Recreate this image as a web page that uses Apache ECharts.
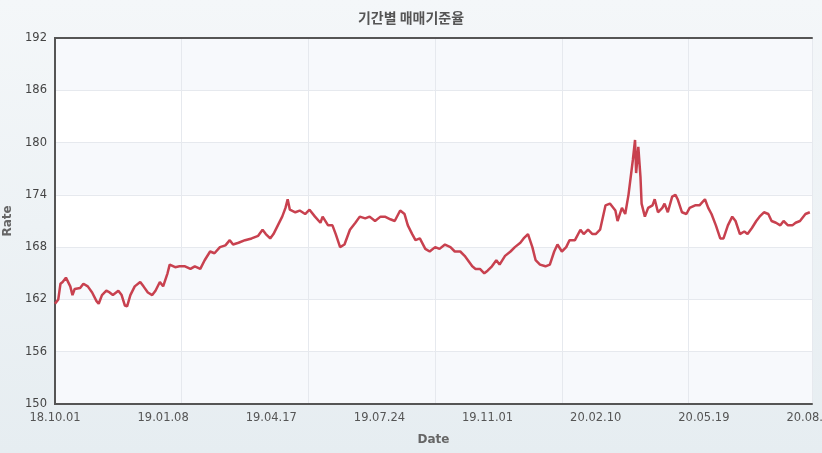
<!DOCTYPE html><html><head><meta charset="utf-8">
<script src="https://cdn.jsdelivr.net/npm/echarts@6/dist/echarts.min.js"></script>
<style>html,body{margin:0;padding:0;background:linear-gradient(#f4f7f9,#e6edf1);}#c{width:822px;height:453px;}</style></head><body><div id="c"></div>
<script>
const tickLabels=['18.10.01','19.01.08','19.04.17','19.07.24','19.11.01','20.02.10','20.05.19','20.08.26'];
const dayOffsets=[0,3,5,7,10,14,16,18,23,26,30,34,38,40,43,47,50,53,58,61,64,66,69,73,78,81,85,89,92,96,
99,103,105,110,114,119,124,128,133,137,142,146,151,156,160,163,168,174,180,186,190,193,197,200,204,208,211,213,215,220,
224,229,233,238,243,245,250,254,257,261,265,270,275,279,284,288,293,298,302,307,311,316,320,323,327,330,334,339,343,348,
352,357,362,366,371,375,378,382,385,389,393,396,400,404,407,412,417,421,426,429,433,437,440,444,449,453,457,460,464,468,
471,476,481,484,488,492,495,499,504,508,513,515,519,522,525,527,529,531,532,534,536,537,540,543,547,549,552,556,558,561,
565,568,570,574,578,581,586,590,595,598,601,605,609,612,616,620,623,627,631,634,638,642,645,649,653,656,660,664,667,671,
675,678,682,687,691];
const rates=[161.5,162,163.8,164,164.5,163.5,162.5,163.2,163.3,163.8,
163.5,162.8,161.8,161.5,162.5,163,162.8,162.5,163,162.5,
161.3,161.2,162.5,163.5,164,163.5,162.8,162.5,163,164,
163.5,165,166,165.7,165.8,165.8,165.5,165.8,165.5,166.5,
167.5,167.3,168,168.2,168.8,168.3,168.5,168.8,169,169.3,
170,169.5,169,169.5,170.5,171.5,172.5,173.5,172.3,172,
172.2,171.8,172.3,171.5,170.8,171.5,170.5,170.5,169.5,168,
168.3,170,170.8,171.5,171.3,171.5,171,171.5,171.5,171.2,
171,172.2,171.8,170.5,169.5,168.8,169,167.8,167.5,168,
167.8,168.3,168,167.5,167.5,167,166.5,165.8,165.5,165.5,
165,165.3,165.8,166.5,166,167,167.5,168,168.5,169,
169.5,168,166.5,166,165.8,166,167.5,168.3,167.5,168,
168.8,168.8,170,169.5,170,169.5,169.5,170,172.8,173,
172.2,171,172.5,171.8,174,176,178,180.3,176.5,179.5,
176,173,171.5,172.5,172.8,173.5,172,172.5,173,172,
173.8,174,173.5,172,171.8,172.5,172.8,172.8,173.5,172.5,
171.8,170.5,169,169,170.5,171.5,171,169.5,169.8,169.5,
170.2,171,171.5,172,171.8,171,170.8,170.5,171,170.5,
170.5,170.8,171,171.8,172];
const chart=echarts.init(document.getElementById('c'));
const font='DejaVu Sans';
const border={show:true,lineStyle:{color:'#555',width:2}};
chart.setOption({
 backgroundColor:'transparent',animation:false,
 title:{text:'기간별 매매기준율',left:'center',top:6,textStyle:{fontFamily:'Noto Sans CJK KR',fontSize:14,fontWeight:'bold',color:'#555'}},
 grid:{left:55,right:10,top:38,bottom:49,outerBoundsMode:'none',containLabel:false,show:true,borderWidth:0,backgroundColor:'#fff'},
 xAxis:[{type:'value',min:0,max:693,interval:99,axisLine:border,axisTick:{show:false},splitLine:{show:false},
   name:'Date',nameLocation:'middle',nameGap:30,nameTextStyle:{fontFamily:font,fontWeight:'bold',color:'#666',fontSize:12},
   axisLabel:{showMaxLabel:true,hideOverlap:false,alignMaxLabel:'center',color:'#555',fontFamily:font,fontSize:11.5,margin:8,formatter:v=>tickLabels[Math.round(v/99)]||''}},
  {type:'value',min:0,max:693,interval:116,position:'top',axisLine:border,axisTick:{show:false},axisLabel:{show:false},
   splitLine:{show:true,lineStyle:{color:'#e6e9ee'}}}],
 yAxis:[{type:'value',min:150,max:192,interval:6,axisLine:border,axisTick:{show:false},
   name:'Rate',nameLocation:'middle',nameGap:40,nameTextStyle:{fontFamily:font,fontWeight:'bold',color:'#666',fontSize:12},
   axisLabel:{color:'#444',fontFamily:font,fontSize:11.5,margin:8},
   splitLine:{lineStyle:{color:'#e6e9ee'}},
   splitArea:{show:true,areaStyle:{color:['#f7f9fc','#ffffff']}}},
  {type:'value',min:150,max:192,interval:6,position:'right',axisLine:border,axisTick:{show:false},axisLabel:{show:false},splitLine:{show:false}}],
 series:[{type:'line',xAxisIndex:0,yAxisIndex:0,data:dayOffsets.map((d,i)=>[d,rates[i]]),showSymbol:false,
   lineStyle:{color:'#c8414f',width:2.5},smooth:false}]
});
</script></body></html>
